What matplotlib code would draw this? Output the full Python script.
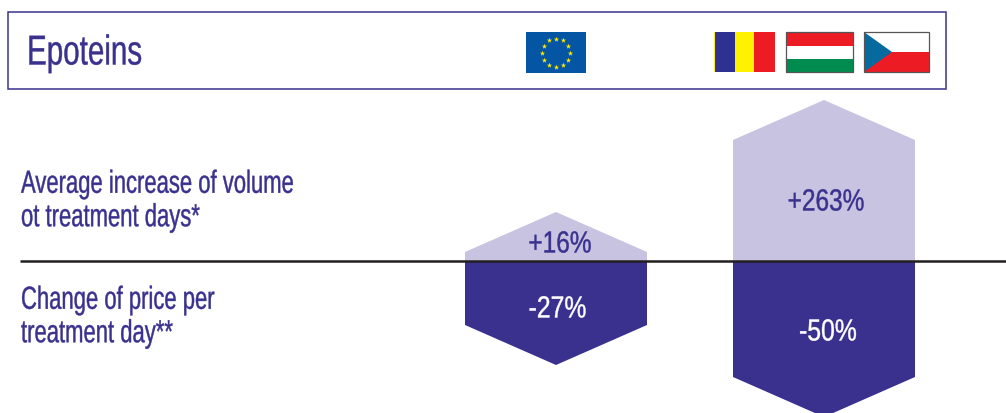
import matplotlib
matplotlib.use('Agg')
import matplotlib.pyplot as plt
from matplotlib.patches import Polygon, Rectangle
from matplotlib.patheffects import AbstractPathEffect
from matplotlib.transforms import Affine2D
import numpy as np

plt.rcParams['font.family'] = ['Liberation Sans', 'DejaVu Sans']

title = 'Epoteins'
row_labels = ['Average increase of volume\not treatment days*', 'Change of price per\ntreatment day**']
volume_labels = ['+16%', '+263%']
price_labels = ['-27%', '-50%']
# heights of the shapes above / below the line (px)
volume_heights = [49, 161]
price_heights = [104, 156]

dark = '#39318d'
light = '#c7c3e1'
base = 261  # y of the line, in image pixels


class Squeeze(AbstractPathEffect):
    # no condensed font installed, so narrow the glyphs around one x position
    # and stroke them a little to get the weight of the original
    def __init__(self, sx, x):
        super().__init__()
        self.sx = sx
        self.x = x

    def draw_path(self, renderer, gc, tpath, affine, rgbFace=None):
        squeezed = affine + Affine2D().translate(-self.x, 0).scale(self.sx, 1).translate(self.x, 0)
        gc0 = renderer.new_gc()
        gc0.copy_properties(gc)
        gc0.set_linewidth(0.3)
        gc0.set_foreground(rgbFace)
        renderer.draw_path(gc0, tpath, squeezed, rgbFace)
        gc0.restore()


def py(y):
    return base - y


def flag_rect(ax, x0, x1, y0, y1, color, **kw):
    ax.add_patch(Rectangle((x0, py(y1)), x1 - x0, y1 - y0, facecolor=color, linewidth=0, **kw))


def hexagon(x0, width, height, sign, color):
    tip = 40
    xc = x0 + width / 2
    shoulder = max(height - tip, 0)
    pts = [(x0, 0), (x0, sign * shoulder), (xc, sign * height), (x0 + width, sign * shoulder), (x0 + width, 0)]
    return Polygon(pts, closed=True, facecolor=color, edgecolor='none')


def narrow_text(ax, x, y, s, sx, **kw):
    t = ax.text(x, py(y), s, **kw)
    t.set_path_effects([Squeeze(sx, x)])
    return t


fig = plt.figure(figsize=(10.06, 4.14), dpi=100)
ax = fig.add_axes([0, 0, 1, 1])
ax.set_xlim(0, 1006)
ax.set_ylim(py(413), py(-1))
ax.axis('off')

# title box
ax.add_patch(Rectangle((8, py(89)), 938, 77, facecolor='white', edgecolor=dark, linewidth=1.1))
narrow_text(ax, 27, 53.5, title, 0.71, color=dark, fontsize=30, va='center', ha='left')

# EU flag
flag_rect(ax, 526, 586, 32, 73, '#0455a4')
angles = np.arange(12) * np.pi / 6
ax.scatter(556 + 14 * np.sin(angles), py(52.5) + 14 * np.cos(angles), marker='*', s=16, color='#ffed00', linewidths=0, zorder=3)

# Romania
flag_rect(ax, 714, 715, 32, 72, '#fff200')
flag_rect(ax, 715, 735, 32, 72, '#2e3192')
flag_rect(ax, 735, 754, 32, 72, '#fff200')
flag_rect(ax, 754, 775, 32, 72, '#ed1c24')

# Hungary
flag_rect(ax, 786, 853, 32, 46, '#ed1c24')
flag_rect(ax, 786, 853, 46, 59, 'white')
flag_rect(ax, 786, 853, 59, 72, '#008c4f')
ax.add_patch(Rectangle((786, py(72)), 67, 40, fill=False, edgecolor='#555555', linewidth=0.9))

# Czech
flag_rect(ax, 864, 929, 32, 52, 'white')
flag_rect(ax, 864, 929, 52, 72, '#ed1c24')
ax.add_patch(Polygon([(864, py(32)), (892, py(52)), (864, py(72))], closed=True, facecolor='#066a9e', edgecolor='none'))
ax.add_patch(Rectangle((864, py(72)), 65, 40, fill=False, edgecolor='#555555', linewidth=0.9))

# shapes
x_left = [465, 733]
for i in range(2):
    ax.add_patch(hexagon(x_left[i], 182, volume_heights[i], 1, light))
    ax.add_patch(hexagon(x_left[i], 182, price_heights[i], -1, dark))

ax.plot([20, 1006], [0, 0], color='#231f20', linewidth=1.8, solid_capstyle='butt', zorder=4)

# value labels
val_kw = dict(fontsize=22, ha='center', va='center', zorder=5)
narrow_text(ax, 560, 244.5, volume_labels[0], 0.8, color=dark, **val_kw)
narrow_text(ax, 826, 202.5, volume_labels[1], 0.8, color=dark, **val_kw)
narrow_text(ax, 557.5, 309.5, price_labels[0], 0.81, color='white', **val_kw)
narrow_text(ax, 828, 332.5, price_labels[1], 0.81, color='white', **val_kw)

# row labels
row_kw = dict(color=dark, fontsize=23, ha='left', va='center', linespacing=1.15)
narrow_text(ax, 21, 201.5, row_labels[0], 0.69, **row_kw)
narrow_text(ax, 21, 317.5, row_labels[1], 0.69, **row_kw)

plt.savefig('out.png', dpi=100)
